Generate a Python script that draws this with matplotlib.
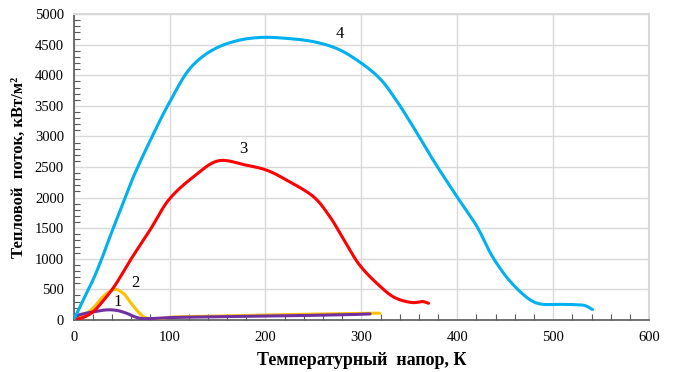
import matplotlib
matplotlib.use("Agg")
import matplotlib.pyplot as plt
import numpy as np
from matplotlib.ticker import MultipleLocator

# Curve 1 (purple)
x1 = [0, 4, 10, 20, 35, 45, 55, 63, 70, 80, 100, 150, 200, 250, 300, 309]
y1 = [0, 70, 100, 130, 165, 155, 110, 55, 25, 22, 38, 52, 63, 75, 92, 98]
# Curve 2 (yellow)
x2 = [0, 10, 20, 30, 38, 44, 52, 60, 68, 75, 84, 100, 150, 200, 250, 300, 319]
y2 = [0, 70, 190, 370, 470, 500, 430, 270, 120, 35, 10, 43, 62, 80, 95, 106, 110]
# Curve 3 (red)
x3 = [0, 10, 20, 30, 42, 60, 80, 100, 125, 152, 180, 201, 225, 250, 267, 284, 298, 316, 336, 354, 364, 370]
y3 = [0, 40, 130, 300, 540, 1000, 1480, 1980, 2340, 2605, 2530, 2450, 2260, 2015, 1690, 1250, 900, 600, 355, 283, 300, 272]
# Curve 4 (blue)
x4 = [0, 10, 20, 28, 40, 50, 62, 80, 100, 124, 148, 173, 197, 225, 250, 274, 298, 319, 336, 357, 375, 399, 420, 438, 458, 479, 489, 507, 522, 533, 541]
y4 = [0, 330, 650, 950, 1450, 1850, 2330, 2940, 3560, 4160, 4440, 4575, 4620, 4600, 4550, 4440, 4220, 3950, 3600, 3080, 2610, 2030, 1540, 1000, 580, 300, 255, 255, 250, 235, 170]

labels = ["1", "2", "3", "4"]
label_x = [46, 64, 177, 277]
label_y = [295, 607, 2790, 4670]

xticks = [0, 100, 200, 300, 400, 500, 600]
yticks = [0, 500, 1000, 1500, 2000, 2500, 3000, 3500, 4000, 4500, 5000]

plt.rcParams['font.family'] = ['Liberation Serif', 'DejaVu Serif']

fig = plt.figure(figsize=(6.73, 3.72), dpi=100)
ax = fig.add_axes([0.1095, 0.140, 0.855, 0.822])


def catmull_rom(xs, ys, per=20):
    # centripetal Catmull-Rom spline through the read points (in normalized space)
    P = np.column_stack([np.asarray(xs, float) / 600, np.asarray(ys, float) / 5000])
    P = np.vstack([2 * P[0] - P[1], P, 2 * P[-1] - P[-2]])
    out = []
    for i in range(1, len(P) - 2):
        p0, p1, p2, p3 = P[i - 1], P[i], P[i + 1], P[i + 2]
        def tj(ti, a, b):
            return ti + max(np.linalg.norm(b - a), 1e-9) ** 0.5
        t0 = 0.0
        t1 = tj(t0, p0, p1)
        t2 = tj(t1, p1, p2)
        t3 = tj(t2, p2, p3)
        t = np.linspace(t1, t2, per, endpoint=False)[:, None]
        A1 = (t1 - t) / (t1 - t0) * p0 + (t - t0) / (t1 - t0) * p1
        A2 = (t2 - t) / (t2 - t1) * p1 + (t - t1) / (t2 - t1) * p2
        A3 = (t3 - t) / (t3 - t2) * p2 + (t - t2) / (t3 - t2) * p3
        B1 = (t2 - t) / (t2 - t0) * A1 + (t - t0) / (t2 - t0) * A2
        B2 = (t3 - t) / (t3 - t1) * A2 + (t - t1) / (t3 - t1) * A3
        C = (t2 - t) / (t2 - t1) * B1 + (t - t1) / (t2 - t1) * B2
        out.append(C)
    out.append(P[-2][None, :])
    C = np.vstack(out)
    return C[:, 0] * 600, C[:, 1] * 5000


series = [(x2, y2, '#ffc000'), (x1, y1, '#7030a0'), (x3, y3, '#ff0000'), (x4, y4, '#00b0f0')]
for xs, ys, c in series:
    sx, sy = catmull_rom(xs, ys)
    ax.plot(sx, sy, color=c, lw=2.2, solid_capstyle='round', zorder=3)

for t, lx, ly in zip(labels, label_x, label_y):
    ax.text(lx, ly, t, fontsize=12, ha='center', va='center', color='black', zorder=4)

ax.set_xlim(0, 600)
ax.set_ylim(0, 5000)
ax.set_xticks(xticks)
ax.set_yticks(yticks)
ax.xaxis.set_minor_locator(MultipleLocator(20))
ax.yaxis.set_minor_locator(MultipleLocator(100))
ax.tick_params(which='major', length=0, labelsize=10.5, pad=8)
ax.tick_params(which='minor', direction='in', length=4, color='#595959', width=0.8)
ax.tick_params(axis='y', which='major', pad=7)
ax.grid(True, which='major', color='#d9d9d9', lw=1)
for s in ['top', 'right']:
    ax.spines[s].set_color('#d9d9d9')
    ax.spines[s].set_linewidth(1.5)
for s in ['left', 'bottom']:
    ax.spines[s].set_color('#595959')
    ax.spines[s].set_linewidth(1.2)
ax.set_xlabel('Температурный  напор, К', fontsize=13, fontweight='bold', labelpad=6)
ax.set_ylabel('Тепловой  поток, кВт/м²', fontsize=12, fontweight='bold', labelpad=6)

fig.savefig('out.png', dpi=100)
